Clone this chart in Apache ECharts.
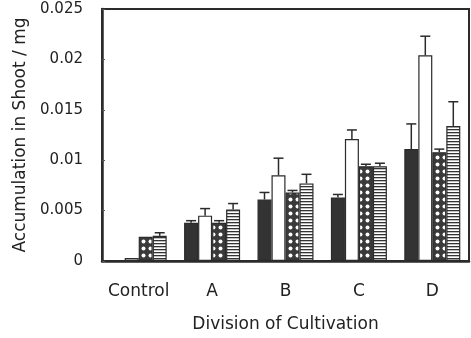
<!DOCTYPE html>
<html>
<head>
<meta charset="utf-8">
<script src="https://cdn.jsdelivr.net/npm/echarts@6/dist/echarts.min.js"></script>
<style>
  html, body { margin: 0; padding: 0; background: #fff; }
  #chart { width: 471px; height: 338px; }
</style>
</head>
<body>
<div id="chart"></div>
<script>
  // 数据
  var categories = ['Control', 'A', 'B', 'C', 'D'];
  var solidVals = [0, 0.0038, 0.0061, 0.0063, 0.0111];
  var solidErr = [0, 0.0002, 0.0007, 0.0003, 0.0025];
  var whiteVals = [0.0003, 0.0045, 0.0085, 0.0121, 0.0204];
  var whiteErr = [0, 0.0007, 0.0017, 0.0009, 0.0019];
  var dotVals = [0.0024, 0.0038, 0.0068, 0.0094, 0.0108];
  var dotErr = [0, 0.0002, 0.0002, 0.0002, 0.0003];
  var stripeVals = [0.0025, 0.0051, 0.0077, 0.0094, 0.0134];
  var stripeErr = [0.0003, 0.0006, 0.0009, 0.0003, 0.0024];

  var ink = '#2b2b2b';
  var barW = 14;

  // 图案填充
  function dotPattern() {
    var c = document.createElement('canvas');
    c.width = 7; c.height = 7;
    var g = c.getContext('2d');
    g.fillStyle = '#3a3a3a';
    g.fillRect(0, 0, 7, 7);
    g.fillStyle = '#fff';
    g.beginPath();
    g.arc(3.5, 3.5, 2, 0, Math.PI * 2);
    g.fill();
    return c;
  }
  function stripePattern() {
    var c = document.createElement('canvas');
    c.width = 4; c.height = 3;
    var g = c.getContext('2d');
    g.fillStyle = '#fff';
    g.fillRect(0, 0, 4, 3);
    g.fillStyle = '#333';
    g.fillRect(0, 0, 4, 1.3);
    return c;
  }

  var groups = [
    { vals: solidVals, err: solidErr, color: '#333' },
    { vals: whiteVals, err: whiteErr, color: '#fff' },
    { vals: dotVals, err: dotErr, color: { image: dotPattern(), repeat: 'repeat' } },
    { vals: stripeVals, err: stripeErr, color: { image: stripePattern(), repeat: 'repeat' } }
  ];

  var series = [];
  groups.forEach(function (grp, i) {
    series.push({
      type: 'bar',
      data: grp.vals,
      barWidth: barW,
      barGap: '0%',
      itemStyle: { color: grp.color, borderColor: ink, borderWidth: 1.2 },
      z: 2
    });
  });
  // 误差线(只画上半)
  groups.forEach(function (grp, i) {
    var data = grp.vals.map(function (v, k) { return [k, v, v + grp.err[k]]; });
    series.push({
      type: 'custom',
      data: data,
      z: 3,
      renderItem: function (params, api) {
        var k = api.value(0);
        var lo = api.coord([k, api.value(1)]);
        var hi = api.coord([k, api.value(2)]);
        var x = lo[0] + (i - 1.5) * barW;
        if (lo[1] - hi[1] < 0.5) return null;
        var style = { stroke: ink, lineWidth: 1.5 };
        return {
          type: 'group',
          children: [
            { type: 'line', shape: { x1: x, y1: lo[1], x2: x, y2: hi[1] }, style: style },
            { type: 'line', shape: { x1: x - 5, y1: hi[1], x2: x + 5, y2: hi[1] }, style: style }
          ]
        };
      }
    });
  });

  var chart = echarts.init(document.getElementById('chart'));
  chart.setOption({
    animation: false,
    textStyle: { fontFamily: 'DejaVu Sans, sans-serif' },
    grid: {
      left: 102, right: 2, top: 9, bottom: 77,
      show: true, borderColor: ink, borderWidth: 2
    },
    xAxis: {
      type: 'category',
      data: categories,
      name: 'Division of Cultivation',
      nameLocation: 'middle',
      nameGap: 55,
      nameTextStyle: { color: '#222', fontSize: 17 },
      axisLine: { lineStyle: { color: ink, width: 2.5 } },
      axisTick: { inside: true, length: 3, lineStyle: { color: '#555' } },
      axisLabel: { color: '#222', fontSize: 17, margin: 22, interval: 0 }
    },
    yAxis: {
      type: 'value',
      min: 0, max: 0.025, interval: 0.005,
      name: 'Accumulation in Shoot / mg',
      nameLocation: 'middle',
      nameGap: 68,
      nameTextStyle: { color: '#222', fontSize: 17 },
      axisLine: { show: true, lineStyle: { color: ink, width: 2.5 } },
      axisTick: { show: true, inside: true, length: 3, lineStyle: { color: '#555' } },
      axisLabel: { color: '#222', fontSize: 15, margin: 19, padding: [6, 0, 0, 0] },
      splitLine: { show: false }
    },
    series: series
  });
</script>
</body>
</html>
